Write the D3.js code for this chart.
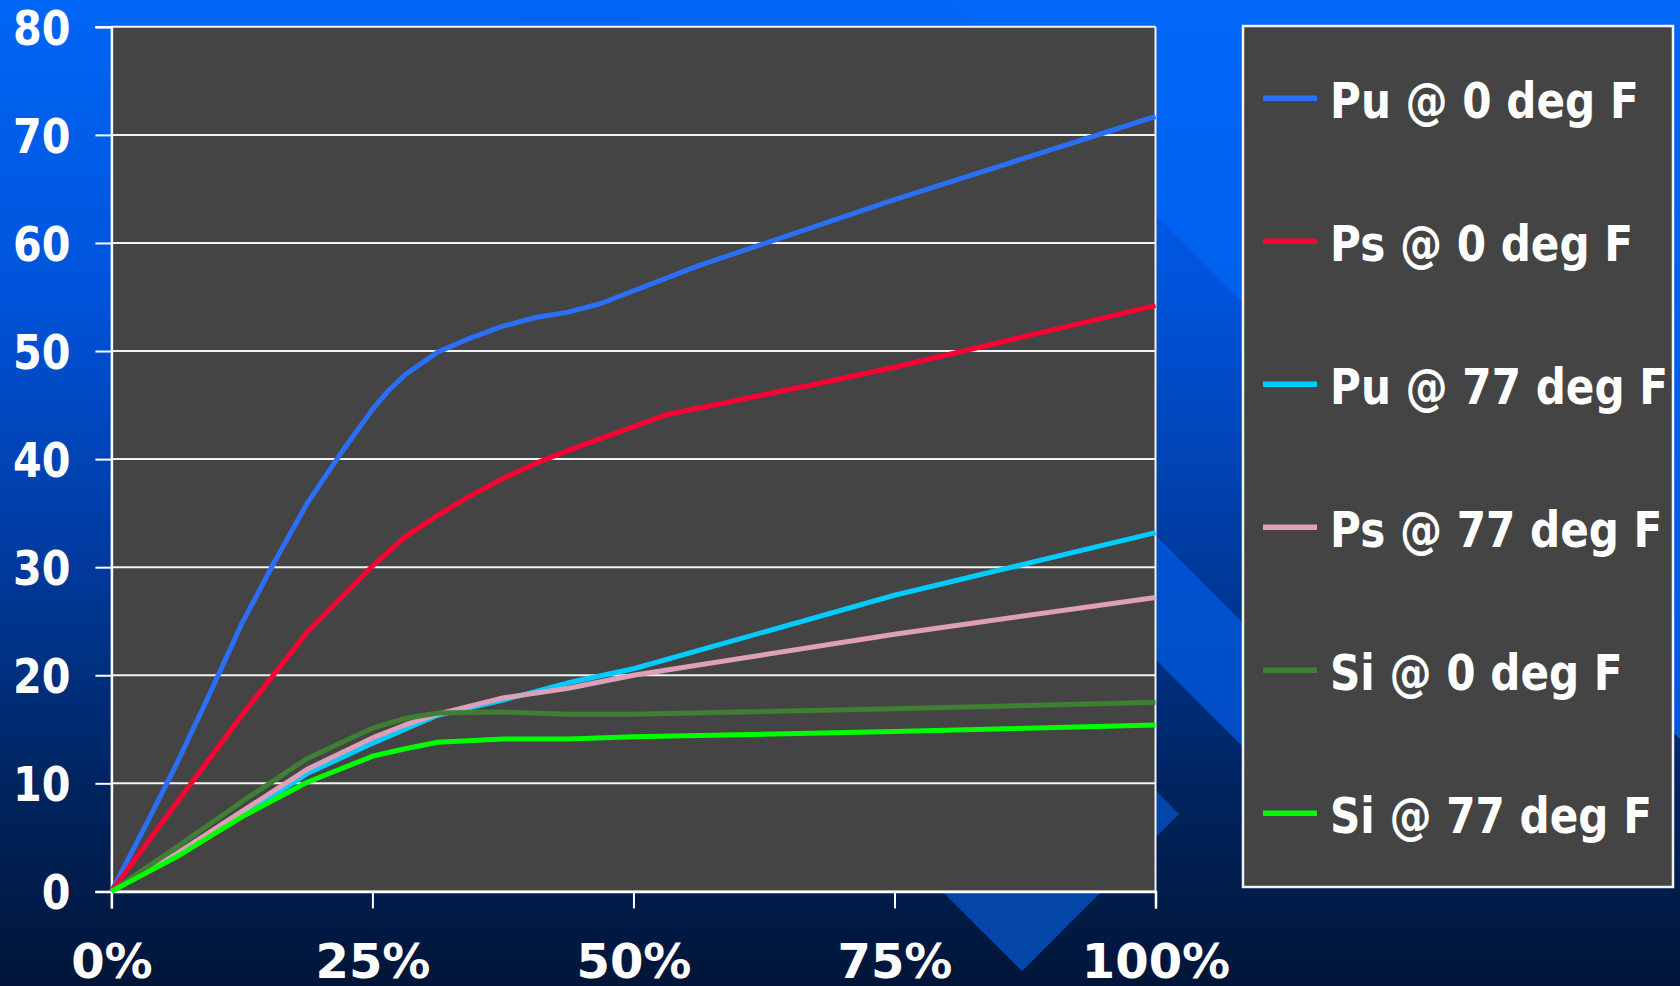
<!DOCTYPE html>
<html>
<head>
<meta charset="utf-8">
<script src="https://cdn.jsdelivr.net/npm/d3@7/dist/d3.min.js"></script>
<style>
  html, body { margin: 0; padding: 0; background: #001538; overflow: hidden; }
  text { font-family: "DejaVu Sans", sans-serif; font-weight: bold; fill: #fff; }
</style>
</head>
<body>
<div id="chart"></div>
<script>
// series, x in % of the run, y in the chart's units
const seriesNames = ["Pu @ 0 deg F", "Ps @ 0 deg F", "Pu @ 77 deg F", "Ps @ 77 deg F", "Si @ 0 deg F", "Si @ 77 deg F"];
const seriesColours = ["#2a6ff6", "#ff0033", "#00ccff", "#dda0b8", "#3f7f33", "#00ff00"];

const puCold = [[0, 0], [3.125, 5.8], [6.25, 11.8], [9.375, 18.2], [12.5, 24.8], [15.625, 30.5], [18.75, 35.9],
  [21.875, 40.4], [25, 44.6], [26.5, 46.3], [28.125, 47.8], [31.25, 49.9], [34.375, 51.2], [37.5, 52.3],
  [40.625, 53.1], [43.75, 53.6], [46.875, 54.4], [56.25, 57.9], [75, 64.0], [100, 71.7]];
const psCold = [[0, 0], [6.25, 8.2], [12.5, 16.3], [18.75, 24.0], [25, 30.1], [28.125, 32.8], [31.25, 34.8],
  [34.375, 36.6], [37.5, 38.2], [40.625, 39.6], [43.75, 40.8], [53.125, 44.1], [68.75, 47.2], [75, 48.5], [100, 54.2]];
const puWarm = [[0, 0], [6.25, 3.4], [12.5, 7.0], [18.75, 10.9], [25, 13.7], [28.125, 15.0], [31.25, 16.3],
  [37.5, 17.7], [43.75, 19.3], [50, 20.6], [75, 27.4], [100, 33.2]];
const psWarm = [[0, 0], [6.25, 3.5], [12.5, 7.4], [18.75, 11.3], [25, 14.2], [28.125, 15.4], [31.25, 16.4],
  [37.5, 17.9], [43.75, 18.8], [50, 20.0], [75, 23.8], [100, 27.2]];
const siCold = [[0, 0], [6.25, 4.1], [12.5, 8.3], [18.75, 12.3], [25, 15.1], [28.125, 16.0], [31.25, 16.5],
  [37.5, 16.6], [43.75, 16.4], [50, 16.4], [75, 16.9], [100, 17.5]];
const siWarm = [[0, 0], [6.25, 3.2], [12.5, 6.9], [18.75, 10.1], [25, 12.5], [28.125, 13.2], [31.25, 13.8],
  [37.5, 14.1], [43.75, 14.1], [50, 14.3], [75, 14.8], [100, 15.4]];

const xTicks = [0, 25, 50, 75, 100];
const yTicks = [0, 10, 20, 30, 40, 50, 60, 70, 80];

const allSeries = [puCold, psCold, puWarm, psWarm, siCold, siWarm];

const width = 1680,
  height = 986,
  plot = { left: 111.4, right: 1155.5, top: 26.8, bottom: 891.4 },
  legendBox = { x: 1243, y: 26, w: 430, h: 861 },
  condense = 0.86; // the slide font is narrower than DejaVu bold

const svg = d3.select("#chart")
  .append("svg")
  .attr("width", width)
  .attr("height", height);

// slide background: blue fade plus the template's diagonal shapes
const defs = svg.append("defs");

function vGrad(id, stops, y1, y2) {
  const g = defs.append("linearGradient")
    .attr("id", id)
    .attr("gradientUnits", "userSpaceOnUse")
    .attr("x1", 0).attr("y1", y1).attr("x2", 0).attr("y2", y2);
  stops.forEach(s => g.append("stop").attr("offset", s[0]).attr("stop-color", s[1]));
}

vGrad("bg", [[0, "#0066f5"], [0.3, "#0053da"], [0.55, "#003ca2"], [0.8, "#00245f"], [1, "#001538"]], 0, height);
vGrad("upper", [[0, "#0067f7"], [1, "#0058e0"]], 0, 740);
vGrad("band", [[0, "#0065f4"], [0.6, "#0055d6"], [1, "#004cc4"]], 0, 760);

svg.append("rect").attr("width", width).attr("height", height).attr("fill", "url(#bg)");

const shapes = svg.append("g").attr("class", "shapes");
shapes.append("path")
  .attr("d", "M941,0 L1680,0 L1680,739 Z")
  .attr("fill", "url(#upper)");
shapes.append("path")
  .attr("d", "M496,0 L620,0 L1310,690 L1248,752 Z")
  .attr("fill", "url(#band)");
shapes.append("path")
  .attr("d", "M1022,657 L1179,814 L1022,971 L865,814 Z")
  .attr("fill", "#0546aa");

// scales
const x = d3.scaleLinear().domain([0, 100]).range([plot.left, plot.right]);
const y = d3.scaleLinear().domain([0, 80]).range([plot.bottom, plot.top]);

const chart = svg.append("g").attr("class", "chart");

chart.append("rect")
  .attr("x", plot.left)
  .attr("y", plot.top)
  .attr("width", plot.right - plot.left)
  .attr("height", plot.bottom - plot.top)
  .attr("fill", "#444444");

// gridlines
chart.append("g")
  .attr("class", "grid")
  .selectAll("line")
  .data(yTicks)
  .enter()
  .append("line")
  .attr("x1", plot.left)
  .attr("x2", plot.right)
  .attr("y1", d => y(d))
  .attr("y2", d => y(d))
  .attr("stroke", "#f2f2f2")
  .attr("stroke-width", 2);

// right edge of the plot frame
chart.append("line")
  .attr("x1", plot.right).attr("x2", plot.right)
  .attr("y1", plot.top).attr("y2", plot.bottom)
  .attr("stroke", "#f2f2f2")
  .attr("stroke-width", 2);

const yAxis = d3.axisLeft(y)
  .tickValues(yTicks)
  .tickSize(16)
  .tickPadding(25)
  .tickFormat(d3.format("d"));

const yy = chart.append("g")
  .attr("class", "y axis")
  .attr("transform", `translate(${plot.left},0)`)
  .call(yAxis);

yy.select(".domain").attr("stroke", "#fff").attr("stroke-width", 2.5);
yy.selectAll(".tick line").attr("stroke", "#fff").attr("stroke-width", 2);
yy.selectAll(".tick text")
  .attr("class", "narrow")
  .attr("dy", "0.36em")
  .style("font-size", "48px")
  .attr("fill", "#fff");

const xAxis = d3.axisBottom(x)
  .tickValues(xTicks)
  .tickSize(17)
  .tickPadding(0)
  .tickFormat(d => d + "%");

const xx = chart.append("g")
  .attr("class", "x axis")
  .attr("transform", `translate(0,${plot.bottom})`)
  .call(xAxis);

xx.select(".domain").attr("stroke", "#fff").attr("stroke-width", 2.5);
xx.selectAll(".tick line").attr("stroke", "#fff").attr("stroke-width", 2);
xx.selectAll(".tick text")
  .attr("y", 87)
  .attr("dy", 0)
  .style("font-size", "48px")
  .attr("fill", "#fff");

// series lines
const line = d3.line()
  .x(d => x(d[0]))
  .y(d => y(d[1]));

chart.append("g")
  .attr("class", "lines")
  .selectAll("path")
  .data(allSeries)
  .enter()
  .append("path")
  .attr("d", line)
  .attr("fill", "none")
  .attr("stroke", (d, i) => seriesColours[i])
  .attr("stroke-width", 5)
  .attr("stroke-linejoin", "round");

// legend
const legend = svg.append("g").attr("class", "legend");

legend.append("rect")
  .attr("x", legendBox.x)
  .attr("y", legendBox.y)
  .attr("width", legendBox.w)
  .attr("height", legendBox.h)
  .attr("fill", "#444444")
  .attr("stroke", "#f2f2f2")
  .attr("stroke-width", 2.5);

const item = legend.selectAll(".item")
  .data(seriesNames)
  .enter()
  .append("g")
  .attr("class", "item")
  .attr("transform", (d, i) => `translate(0,${98.3 + i * 143})`);

item.append("line")
  .attr("x1", 1263).attr("x2", 1317)
  .attr("y1", 0).attr("y2", 0)
  .attr("stroke", (d, i) => seriesColours[i])
  .attr("stroke-width", 5.5);

item.append("text")
  .attr("class", "narrow")
  .attr("x", 1330)
  .attr("y", 20)
  .style("font-size", "49px")
  .text(d => d);

// squeeze the value and legend labels to the narrower face of the original
svg.selectAll("text.narrow").each(function() {
  const w = this.getComputedTextLength();
  d3.select(this)
    .attr("textLength", w * condense)
    .attr("lengthAdjust", "spacingAndGlyphs");
});
</script>
</body>
</html>
